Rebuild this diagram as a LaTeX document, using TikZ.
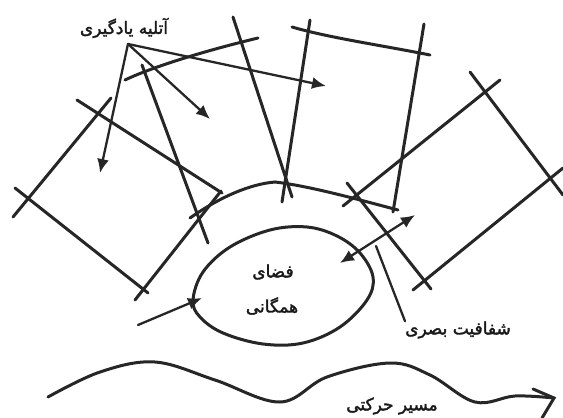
\documentclass[tikz,border=0pt]{standalone}
\usepackage{fontspec}
\usetikzlibrary{arrows.meta}
\newfontfamily\arabicfont[Script=Arabic,FakeBold=2]{DejaVu Sans}
\TeXXeTstate=1
\tikzset{
  sk/.style={line width=3pt, draw=black!85, line cap=round},
  skthin/.style={line width=2.3pt, draw=black!85, line cap=round},
  fa/.style={font=\arabicfont\fontsize{17}{19}\selectfont, text=black!90, inner sep=0pt},
  tipfill/.style={-{Latex[length=14pt,width=12pt]}},
}
\begin{document}
\begin{tikzpicture}[x=1pt,y=-1pt]
\useasboundingbox (0,0) rectangle (563,418);

% left square
\draw[sk] (13,217) -- (111,98);
\draw[sk] (77,100) -- (222,193);
\draw[sk] (221,191) -- (135,300);
\draw[sk] (15,188) -- (148,293);

% second rectangle
\draw[sk] (142,65) -- (208,243);
\draw[sk] (125,80) .. controls (150,68) and (200,52) .. (258,38);
\draw[sk] (233,17) -- (292,197);

% third rectangle
\draw[sk] (310,20) -- (282,202);
\draw[sk] (292,27) .. controls (330,38) and (380,45) .. (430,55);
\draw[sk] (424,24) -- (393,212);

% arc (bottoms)
\draw[sk] (190,218) .. controls (220,197) and (250,184) .. (275,182)
          .. controls (310,186) and (360,200) .. (398,210);

% right rectangle
\draw[sk] (343,206) -- (500,80);
\draw[sk] (470,72) -- (563,195);
\draw[sk] (413,290) -- (563,168);
\draw[sk] (347,183) -- (431,289);

% label atelier and arrows
\node[fa] (lab1) at (124,28) {\beginR آتلیه یادگیری\endR};
\coordinate (o) at (128,44);
\coordinate (t1) at (100,173);
\coordinate (t2) at (210,119);
\coordinate (t3) at (326,86);
\draw[skthin,tipfill] (o) -- (t1);
\draw[skthin,tipfill] (o) -- (t2);
\draw[skthin,tipfill] (o) -- (t3);

% common space blob
\draw[sk] plot[smooth cycle, tension=0.6] coordinates {
  (193,300) (203,272) (230,247) (270,230) (307,227) (337,236)
  (360,253) (373,277) (367,300) (340,327) (303,343) (263,344)
  (223,333) (200,317)};
\node[fa] (fz1) at (273,272) {\beginR فضای\endR};
\node[fa] (fz2) at (272,306) {\beginR همگانی\endR};
\coordinate (ba) at (138,325);
\coordinate (bb) at (202,298);
\draw[skthin,tipfill] (ba) -- (bb);

% visual transparency
\coordinate (da) at (340,263);
\coordinate (db) at (415,215);
\draw[skthin,{Latex[length=14pt,width=12pt]}-{Latex[length=14pt,width=12pt]}] (da) -- (db);
\node[fa] (sh) at (458,330) {\beginR شفافیت بصری\endR};
\coordinate (la) at (376,246);
\draw[skthin] (la) -- (sh.north west);

% movement path
\coordinate (w0) at (48,397);
\coordinate (wt) at (554,398);
\draw[sk] plot[smooth, tension=0.6] coordinates {
  (48,397) (100,372) (155,362) (215,380) (280,402) (327,377) (390,363)
  (430,375) (475,402) (515,396) (554,398)};
\coordinate (wa) at (533,389);
\coordinate (wb) at (542,418);
\draw[sk] (wa) -- (wt) -- (wb);
\node[fa] (ms) at (392,406) {\beginR مسیر حرکتی\endR};
\end{tikzpicture}
\end{document}
